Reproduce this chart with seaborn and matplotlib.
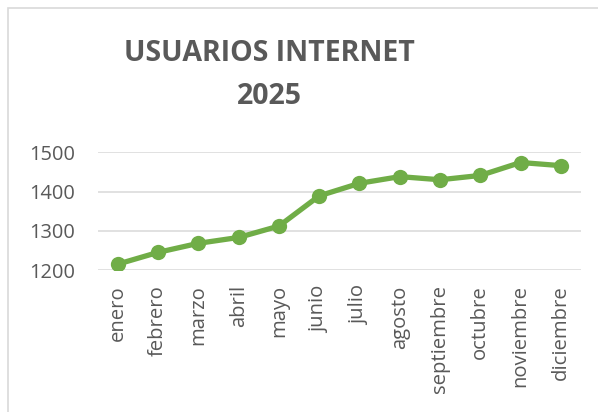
import matplotlib
matplotlib.use("Agg")
import matplotlib.pyplot as plt
from matplotlib.patches import Rectangle
import seaborn as sns
import pandas as pd

meses = ["enero", "febrero", "marzo", "abril", "mayo", "junio", "julio",
         "agosto", "septiembre", "octubre", "noviembre", "diciembre"]
usuarios = [1215, 1245, 1268, 1283, 1312, 1389, 1421, 1438, 1430, 1441, 1474, 1466]
y_ticks = [1200, 1300, 1400, 1500]
titulo = "USUARIOS INTERNET\n2025"

sns.set_theme(style="white")
plt.rcParams["font.family"] = ["Open Sans", "DejaVu Sans"]

df = pd.DataFrame({"mes": meses, "usuarios": usuarios})

W, H = 598, 412
fig = plt.figure(figsize=(W / 100, H / 100), dpi=100)
fig.patch.set_facecolor("white")

# chart frame
fig.patches.append(Rectangle((8 / W, -0.2), 1.2, 1 - 8 / H + 0.2,
                             transform=fig.transFigure, fill=False,
                             edgecolor="#d9d9d9", linewidth=1.2, clip_on=False))

ax = fig.add_axes([97.7 / W, (H - 270) / H, 483.3 / W, (270 - 152.3) / H])
sns.lineplot(data=df, x="mes", y="usuarios", ax=ax, color="#70AD47",
             linewidth=3.8, marker="o", markersize=11, markeredgewidth=0,
             sort=False)

ax.set_xlim(-0.5, len(meses) - 0.5)
ax.set_ylim(1200, 1500)
ax.set_yticks(y_ticks)
ax.set_yticklabels([str(v) for v in y_ticks])
ax.grid(axis="y", color="#d9d9d9", linewidth=1.1)
ax.set_axisbelow(True)
for s in ["top", "right", "left", "bottom"]:
    ax.spines[s].set_visible(False)
ax.set_xlabel("")
ax.set_ylabel("")
ax.tick_params(axis="y", length=0, pad=16, labelsize=14.4, labelcolor="#595959")
ax.tick_params(axis="x", length=0, pad=11, labelsize=14.6, labelcolor="#595959",
               labelrotation=90)
for lbl in ax.get_xticklabels():
    lbl.set_verticalalignment("top")

fig.text(269 / W, 1 - 75 / H, titulo, ha="center", va="center",
         fontsize=20.5, fontweight="bold", color="#595959", linespacing=1.6)

fig.savefig("out.png", dpi=100)
